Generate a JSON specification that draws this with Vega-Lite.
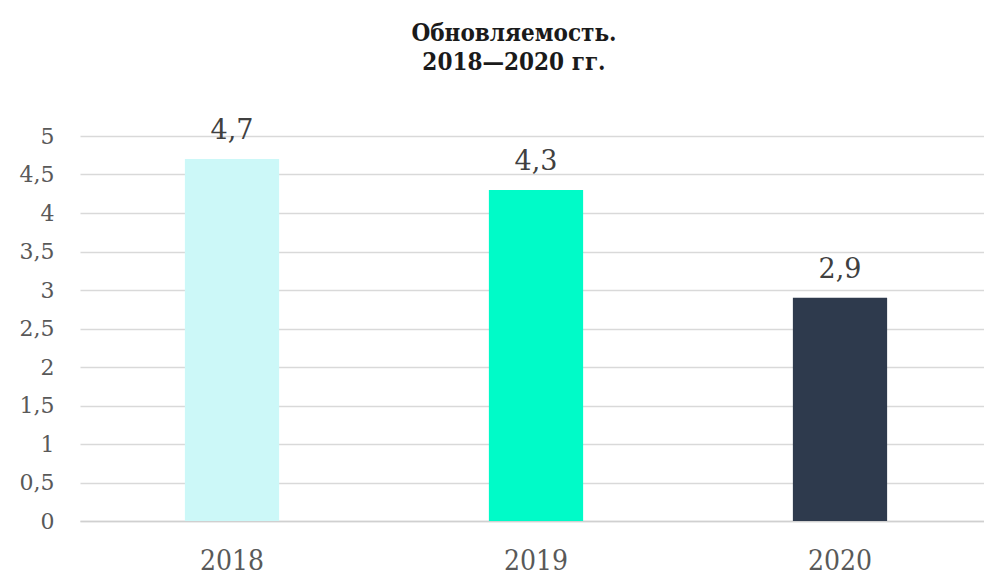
{
  "$schema": "https://vega.github.io/schema/vega-lite/v6.json",
  "width": 912,
  "height": 385,
  "autosize": {"type": "none"},
  "padding": {"left": 80, "top": 136, "right": 0, "bottom": 59},
  "background": "white",
  "title": {
    "text": ["Обновляемость.", "2018—2020 гг."],
    "font": "DejaVu Serif Condensed",
    "fontWeight": "bold",
    "fontSize": 24,
    "lineHeight": 29,
    "color": "#1a1a1a",
    "anchor": "middle",
    "frame": "group",
    "dx": -22,
    "offset": 42
  },
  "data": {
    "values": [
      {"year": "2018", "value": 4.7, "label": "4,7"},
      {"year": "2019", "value": 4.3, "label": "4,3"},
      {"year": "2020", "value": 2.9, "label": "2,9"}
    ]
  },
  "encoding": {
    "x": {
      "field": "year",
      "type": "nominal",
      "scale": {"paddingInner": 0.69, "paddingOuter": 0.345},
      "axis": {
        "title": null,
        "labelAngle": 0,
        "labelFont": "DejaVu Serif Condensed",
        "labelFontSize": 28,
        "labelColor": "#595959",
        "labelPadding": 26,
        "ticks": false,
        "domainColor": "#d0d0d0",
        "domainWidth": 1.5
      }
    },
    "y": {
      "field": "value",
      "type": "quantitative",
      "scale": {"domain": [0, 5]},
      "axis": {
        "title": null,
        "values": [0, 0.5, 1, 1.5, 2, 2.5, 3, 3.5, 4, 4.5, 5],
        "labelExpr": "replace(format(datum.value, '~g'), '.', ',')",
        "labelFont": "DejaVu Serif",
        "labelFontSize": 22,
        "labelColor": "#595959",
        "labelPadding": 26,
        "ticks": false,
        "domain": false,
        "gridColor": "#d9d9d9",
        "gridWidth": 1.5
      }
    }
  },
  "layer": [
    {
      "mark": {"type": "bar"},
      "encoding": {
        "color": {
          "field": "year",
          "type": "nominal",
          "scale": {"domain": ["2018", "2019", "2020"], "range": ["#ccf8f8", "#00fbc8", "#2e3a4d"]},
          "legend": null
        }
      }
    },
    {
      "mark": {"type": "text", "baseline": "alphabetic", "dy": -20, "font": "DejaVu Serif", "fontSize": 27, "color": "#404040"},
      "encoding": {"text": {"field": "label"}}
    }
  ],
  "config": {"view": {"stroke": null}}
}
